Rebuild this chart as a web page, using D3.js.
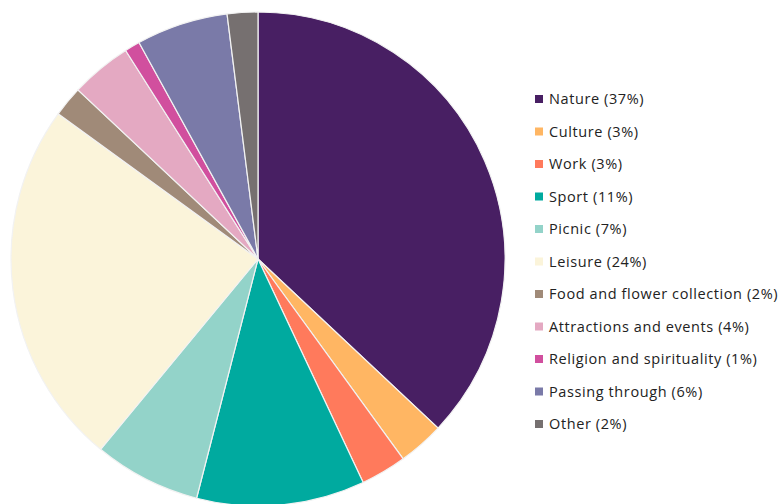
<!DOCTYPE html>
<html>
<head>
<meta charset="utf-8">
<script src="https://cdn.jsdelivr.net/npm/d3@7"></script>
<style>
  body { margin: 0; background: #fff; }
  svg { display: block; }
</style>
</head>
<body>
<div id="wrap"></div>
<script>
let categories = ['Nature', 'Culture', 'Work', 'Sport', 'Picnic', 'Leisure',
    'Food and flower collection', 'Attractions and events', 'Religion and spirituality',
    'Passing through', 'Other'];
let shares = [37, 3, 3, 11, 7, 24, 2, 4, 1, 6, 2];
let palette = ['#481f63', '#ffb663', '#ff7a5c', '#00aa9f', '#93d3c9', '#fbf4da',
    '#a08a78', '#e4a9c2', '#d14f9e', '#7a7aa8', '#767070'];

let width = 783, height = 504;
let cx = 258, cy = 259, r = 247;

let svg = d3.select('#wrap').append('svg')
    .attr('width', width)
    .attr('height', height);

let data = categories.map((c, i) => ({name: c, value: shares[i]}));

let color = d3.scaleOrdinal().domain(categories).range(palette);

let pie = d3.pie()
    .value(d => d.value)
    .sort(null);

let arc = d3.arc()
    .innerRadius(0)
    .outerRadius(r);

let g = svg.append('g')
    .attr('transform', `translate(${cx},${cy})`);

g.selectAll('path')
    .data(pie(data))
    .enter().append('path')
    .attr('d', arc)
    .attr('fill', d => color(d.data.name))
    .attr('stroke', '#f2f2f2')
    .attr('stroke-width', 1.2);

// legend
let legend = svg.append('g')
    .attr('transform', 'translate(535,99)');

let rows = legend.selectAll('.row')
    .data(data)
    .enter().append('g')
    .attr('class', 'row')
    .attr('transform', (d, i) => `translate(0,${i * 32.5})`);

rows.append('rect')
    .attr('x', 0)
    .attr('y', -4)
    .attr('width', 8)
    .attr('height', 8)
    .attr('fill', d => color(d.name));

rows.append('text')
    .attr('x', 14)
    .attr('y', 0)
    .attr('dy', '0.35em')
    .attr('fill', '#222')
    .style('font-family', '"Open Sans", sans-serif')
    .style('font-size', '14.5px')
    .style('letter-spacing', '0.6px')
    .text(d => `${d.name} (${d.value}%)`);
</script>
</body>
</html>
